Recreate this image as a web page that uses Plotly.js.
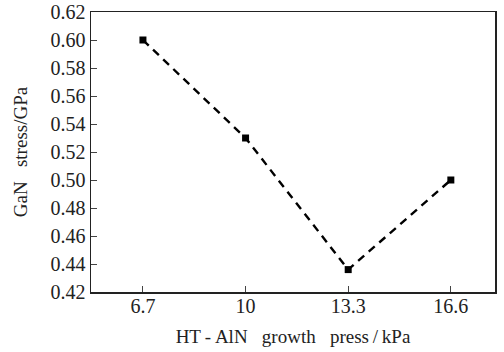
<!DOCTYPE html>
<html>
<head>
<meta charset="utf-8">
<script src="https://cdn.plot.ly/plotly-3.0.1.min.js"></script>
<style>html,body{margin:0;padding:0;background:#fff;}#chart{width:504px;height:352px;}</style>
</head>
<body>
<div id="chart"></div>
<script>
const pressure = [6.7, 10, 13.3, 16.6];
const stress = [0.600, 0.530, 0.436, 0.500];
const xTicks = [6.7, 10, 13.3, 16.6];
const xTickLabels = ["6.7", "10", "13.3", "16.6"];
const yTicks = [0.42, 0.44, 0.46, 0.48, 0.50, 0.52, 0.54, 0.56, 0.58, 0.60, 0.62];

const font = "'Liberation Serif', 'Times New Roman', serif";
const nb = '\u00A0';
Plotly.newPlot('chart', [{
  x: pressure, y: stress, type: 'scatter', mode: 'lines+markers',
  line: {color: '#000', width: 2.4, dash: '8px,6px'},
  marker: {symbol: 'square', size: 7, color: '#000'}
}], {
  width: 504, height: 352,
  margin: {l: 91, r: 9, t: 12, b: 60},
  paper_bgcolor: '#fff', plot_bgcolor: '#fff',
  showlegend: false,
  font: {family: font, color: '#222'},
  xaxis: {
    range: [5.03, 18.02], tickvals: xTicks, ticktext: xTickLabels,
    ticks: 'inside', ticklen: 6, tickcolor: '#444', tickwidth: 1,
    showline: true, linecolor: '#222', linewidth: 1.5, mirror: true,
    showgrid: false, zeroline: false, ticklabelstandoff: -5,
    tickfont: {size: 20, family: font, color: '#222'},
    title: {text: 'HT\u2009-\u2009AlN' + nb + nb + nb + 'growth' + nb + nb + nb + 'press\u2009/\u2009kPa', font: {size: 19, family: font, color: '#222'}, standoff: 14}
  },
  yaxis: {
    range: [0.42, 0.62], tickvals: yTicks, ticktext: yTicks.map(v => v.toFixed(2)),
    ticks: 'inside', ticklen: 6, tickcolor: '#444', tickwidth: 1,
    showline: true, linecolor: '#222', linewidth: 1.5, mirror: true,
    showgrid: false, zeroline: false,
    tickfont: {size: 20, family: font, color: '#222'},
    title: {text: 'GaN' + nb + nb + nb + 'stress/GPa', font: {size: 19, family: font, color: '#222'}, standoff: 18}
  }
}, {displayModeBar: false, staticPlot: true});
</script>
</body>
</html>
